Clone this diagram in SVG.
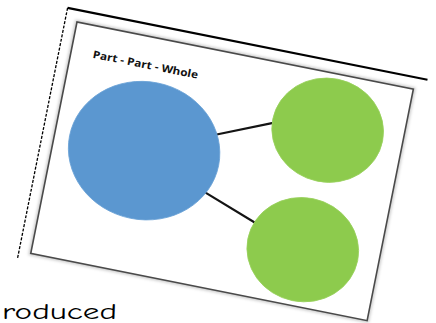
<svg xmlns="http://www.w3.org/2000/svg" width="436" height="323" viewBox="0 0 436 323">
<defs>
<filter id="soft" x="-10%" y="-10%" width="120%" height="120%">
<feGaussianBlur stdDeviation="1.5"/>
</filter>
</defs>
<style>
.frame{fill:#ffffff;stroke:#4a4a4a;stroke-width:1.6}
.shadow{fill:none;stroke:#c8c8c8;stroke-width:4}
.whole{fill:#5b97d0;stroke:#6aa2d6;stroke-width:0.8}
.part{fill:#8dcb4d;stroke:#98d05c;stroke-width:0.8}
.conn{stroke:#141414;stroke-width:2.2;fill:none;stroke-linecap:round}
.title{font-family:"Open Sans","Liberation Sans",sans-serif;font-weight:bold;font-size:10.5px;fill:#111}
.hand{font-family:"Comic Neue","DejaVu Sans",sans-serif;font-size:23px;fill:#000}
</style>
<rect width="436" height="323" fill="#ffffff"/>
<g transform="translate(77,22) rotate(11.3)">
<g id="paper">
<line x1="-12" y1="-12" x2="355" y2="-12" stroke="#000" stroke-width="2.2"/>
<line x1="-12" y1="-12" x2="-12" y2="243" stroke="#000" stroke-width="1.3" stroke-dasharray="3,1.5"/>
</g>
<g id="frame">
<rect class="shadow" x="0" y="0" width="343" height="236" filter="url(#soft)"/>
<rect class="frame" x="0" y="0" width="343" height="236"/>
<text class="title" x="22" y="32" textLength="107" lengthAdjust="spacingAndGlyphs">Part - Part - Whole</text>
</g>
<g id="connectors">
<line class="conn" x1="159" y1="83" x2="211" y2="61"/>
<line class="conn" x1="159" y1="142" x2="214" y2="162"/>
</g>
<g id="whole">
<ellipse class="whole" cx="91" cy="113" rx="76" ry="69"/>
</g>
<g id="part1">
<ellipse class="part" cx="267" cy="57" rx="56" ry="52"/>
</g>
<g id="part2">
<ellipse class="part" cx="266" cy="179" rx="56" ry="52"/>
</g>
</g>
<text class="hand" x="2" y="319" textLength="115" lengthAdjust="spacingAndGlyphs">roduced</text>
</svg>
